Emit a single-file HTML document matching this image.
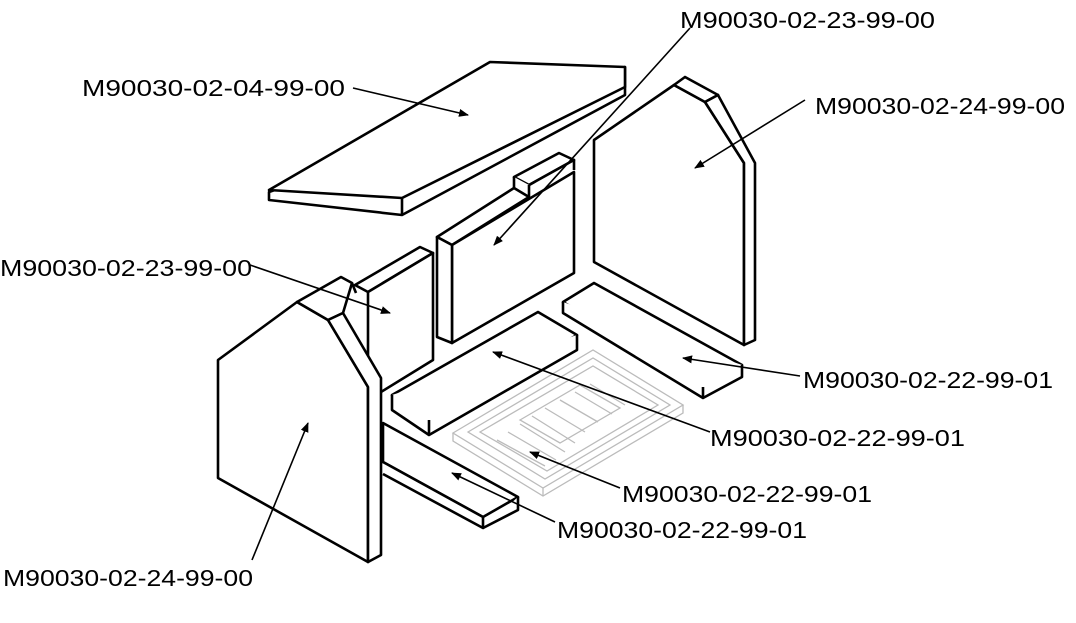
<!DOCTYPE html>
<html><head><meta charset="utf-8"><style>
html,body{margin:0;padding:0;background:#fff}
svg{display:block}
text{font-family:"Liberation Sans",sans-serif;font-size:23px;fill:#000}
</style></head><body>
<svg width="1076" height="623" viewBox="0 0 1076 623" xmlns="http://www.w3.org/2000/svg">
<defs><marker id="a" markerWidth="10" markerHeight="8" refX="9" refY="4" orient="auto" markerUnits="userSpaceOnUse"><path d="M0,0 L10,4 L0,8 Z" fill="#000"/></marker></defs>
<!-- grey tray -->
<g fill="none" stroke="#bbb" stroke-width="1.3">
<path d="M453,433 L593,350 L683,405 L543,488 Z"/>
<path d="M453,433 L453,441 L543,496 L683,413 L683,405"/>
<path d="M543,488 L543,496"/>
<path d="M468,432 L593,358 L670,405 L545,479 Z"/>
<path d="M480,432 L593,366 L658,405 L547,471 Z"/>
<path d="M520,420 L580,385 L620,408 L560,443 Z"/>
<path d="M497,440 L545,466 M508,432 L556,460 M520,424 L565,452 M532,416 L575,443 M545,408 L585,432 M560,400 L598,422 M575,392 L612,414 M590,384 L625,405"/>
</g>
<g fill="#fff" stroke="#000" stroke-width="2.6" stroke-linejoin="round">
<!-- top slab -->
<path d="M269,192 L269,200 L402,215 L625,95 L625,67 Z"/>
<path d="M490,62 L625,67 L625,87 L402,198 L269,190 Z"/>
<path d="M402,198 L402,215"/>
<!-- middle back panel -->
<path d="M514,177 L559,153 L574,160 L529,185 Z"/>
<path d="M514,177 L514,188 L529,200 L529,185"/>
<path d="M437,237 L514,188 L529,197 L452,245 Z"/>
<path d="M529,185 L574,160 L574,170"/>
<path d="M452,245 L574,172 L574,273 L452,343 Z"/>
<path d="M437,237 L452,245 L452,343 L437,337 Z"/>
<!-- right wall -->
<path d="M594,140 L674,85 L705,102 L744,163 L744,345 L594,262 Z"/>
<path d="M674,85 L685,77 L718,95 L705,102 Z"/>
<path d="M705,102 L718,95 L755,163 L755,340 L744,345 L744,163 Z"/>
<!-- back bar right -->
<path d="M563,302 L594,283 L742,365 L703,387 Z"/>
<path d="M563,302 L563,313 L703,398 L742,377 L742,365"/>
<path d="M703,387 L703,398"/>
<!-- left back panel -->
<path d="M355,285 L420,247 L433,253 L368,292 Z"/>
<path d="M368,292 L433,253 L433,360 L368,400 Z"/>
<!-- bottom bar C -->
<path d="M383,423 L518,497 L483,517 L383,462 Z"/>
<path d="M383,462 L483,517 L483,528 L383,474"/>
<path d="M483,528 L518,510 L518,497"/>
<!-- front middle bar A -->
<path d="M392,395 L538,312 L577,335 L429,420 Z"/>
<path d="M392,395 L392,410 L429,435 L577,350 L577,335"/>
<path d="M429,420 L429,435"/>
<!-- left wall -->
<path d="M218,360 L297,302 L328,320 L368,387 L368,562 L218,478 Z"/>
<path d="M297,302 L341,277 L352,283 L343,313 L328,320 Z"/>
<path d="M352,283 L356,293"/>
<path d="M328,320 L343,313 L381,378 L381,555 L368,562 L368,387 Z"/>
</g>
<g stroke="#000" stroke-width="1.6" fill="none" marker-end="url(#a)">
<path d="M353,88 L468,115"/>
<path d="M690,28 L494,245"/>
<path d="M805,100 L695,168"/>
<path d="M250,265 L390,313"/>
<path d="M800,376 L683,358"/>
<path d="M710,432 L493,352"/>
<path d="M620,488 L530,452"/>
<path d="M555,522 L452,473"/>
<path d="M252,560 L308,423"/>
</g>
<text x="82" y="96" textLength="263" lengthAdjust="spacingAndGlyphs">M90030-02-04-99-00</text>
<text x="680" y="28" textLength="255" lengthAdjust="spacingAndGlyphs">M90030-02-23-99-00</text>
<text x="815" y="114" textLength="250" lengthAdjust="spacingAndGlyphs">M90030-02-24-99-00</text>
<text x="0" y="276" textLength="252" lengthAdjust="spacingAndGlyphs">M90030-02-23-99-00</text>
<text x="803" y="388" textLength="250" lengthAdjust="spacingAndGlyphs">M90030-02-22-99-01</text>
<text x="710" y="446" textLength="255" lengthAdjust="spacingAndGlyphs">M90030-02-22-99-01</text>
<text x="622" y="502" textLength="250" lengthAdjust="spacingAndGlyphs">M90030-02-22-99-01</text>
<text x="557" y="538" textLength="250" lengthAdjust="spacingAndGlyphs">M90030-02-22-99-01</text>
<text x="3" y="586" textLength="250" lengthAdjust="spacingAndGlyphs">M90030-02-24-99-00</text>
</svg>
</body></html>
